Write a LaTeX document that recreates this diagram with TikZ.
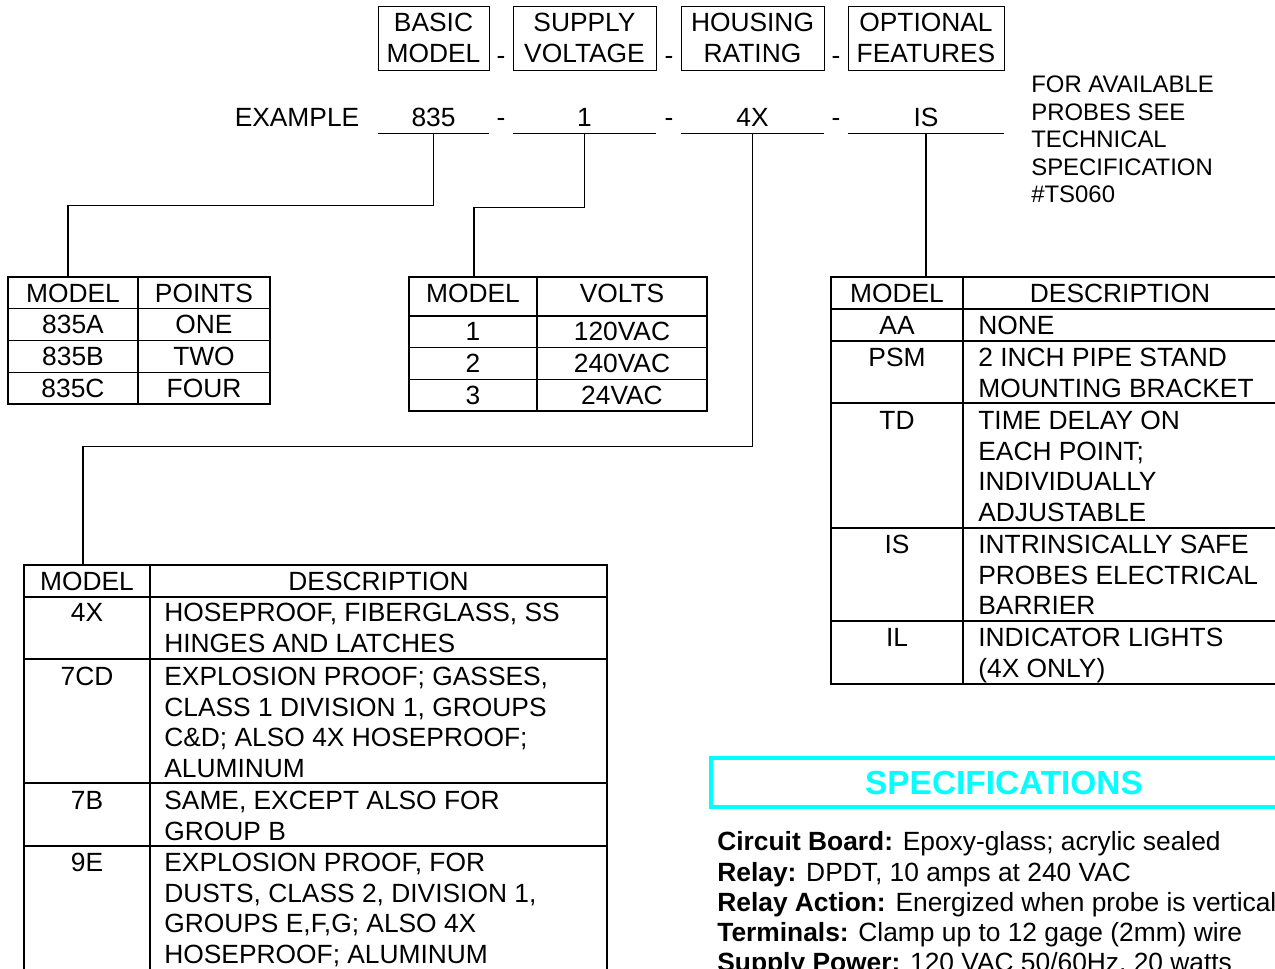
\documentclass[tikz,border=0pt]{standalone}
\usepackage{fontspec}
\setmainfont{Liberation Sans}
\usetikzlibrary{positioning,calc}

\definecolor{specCyan}{RGB}{0,255,255}
\newcommand{\capline}{\rule{0pt}{0.716em}}

\begin{document}
\begin{tikzpicture}[x=0.02cm,y=-0.02cm,
        hdr/.style={draw, align=center, minimum height=1.28cm, inner sep=0pt,
                    font=\fontsize{15}{18.1}\selectfont},
        field/.style={minimum height=0.64cm, inner sep=0pt},
        cell/.style={inner sep=0pt},
        dash sep/.style={inner sep=0pt, anchor=base},
        desc/.style={anchor=north west, align=left, inner sep=0pt},
        grid/.style={line width=0.6pt},
        link/.style={line width=0.6pt}]
  \tikzstyle{every node}=[font=\fontsize{15}{17.4}\selectfont]
  \clip (0,0) rectangle (1275,968);
  \fill[white] (0,0) rectangle (1275,968);

  % header boxes
  \node[hdr, minimum width=2.22cm] (hBasic) at (433.5,38) {BASIC\\MODEL};
  \node[hdr, minimum width=2.86cm] (hSupply) at (584.5,38) {SUPPLY\\VOLTAGE};
  \node[hdr, minimum width=2.86cm] (hHousing) at (752.5,38) {HOUSING\\RATING};
  \node[hdr, minimum width=3.12cm] (hOption) at (926,38) {OPTIONAL\\FEATURES};
  \node[dash sep] (d1) at (501,64.5) {-};
  \node[dash sep] (d2) at (669,64.5) {-};
  \node[dash sep] (d3) at (836,64.5) {-};

  % example line
  \node[cell] (ex) at (297,117) {EXAMPLE};
  \node[field, minimum width=2.22cm] (v835) at (433.5,117) {835};
  \node[field, minimum width=2.86cm] (vOne) at (584.5,117) {1};
  \node[field, minimum width=2.86cm] (vFour) at (752.5,117) {4X};
  \node[field, minimum width=3.12cm] (vIS) at (926,117) {IS};
  \foreach \f in {v835,vOne,vFour,vIS}
    \draw[link] (\f.south west) -- (\f.south east);
  \node[dash sep] (e1) at (501,126.5) {-};
  \node[dash sep] (e2) at (669,126.5) {-};
  \node[dash sep] (e3) at (836,126.5) {-};
  \node[desc, font=\fontsize{13.6}{15.6}\selectfont] (probes) at (1031,75.4)
    {\capline FOR AVAILABLE\\PROBES SEE\\TECHNICAL\\SPECIFICATION\\\#TS060};

  % points table
  \draw[grid] (8,277) rectangle (270,404);
  \draw[grid] (138,277) -- (138,404);
  \foreach \y in {308.75,340.5,372.25} \draw[grid] (8,\y) -- (270,\y);
  \coordinate (ptsTop) at (68,277);
  \node[cell] (ptsM) at (73,293) {MODEL};
  \node[cell] (ptsP) at (204,293) {POINTS};
  \foreach \m/\p [count=\i] in {835A/ONE,835B/TWO,835C/FOUR} {
    \node[cell] (pm\i) at (73,293+31.75*\i) {\m};
    \node[cell] (pp\i) at (204,293+31.75*\i) {\p};
  }

  % volts table
  \draw[grid] (409,277) rectangle (707,411);
  \draw[grid] (537,277) -- (537,411);
  \foreach \y in {316,347.7,379.4} \draw[grid] (409,\y) -- (707,\y);
  \coordinate (vltTop) at (474,277);
  \node[cell] (vltM) at (473,293) {MODEL};
  \node[cell] (vltV) at (622,293) {VOLTS};
  \foreach \m/\p [count=\i] in {1/120VAC,2/240VAC,3/24VAC} {
    \node[cell] (vm\i) at (473,300+31.7*\i) {\m};
    \node[cell] (vv\i) at (622,300+31.7*\i) {\p};
  }

  % options table
  \draw[grid] (831,277) rectangle (1277,684);
  \draw[grid] (963,277) -- (963,684);
  \foreach \y in {309,341,403,528,621} \draw[grid] (831,\y) -- (1277,\y);
  \coordinate (optTop) at (926,277);
  \node[cell] (optM) at (897,293) {MODEL};
  \node[cell] (optD) at (1120,293) {DESCRIPTION};
  \node[cell] (oAA) at (897,325) {AA};
  \node[cell] (oPSM) at (897,357) {PSM};
  \node[cell] (oTD) at (897,420) {TD};
  \node[cell] (oIS) at (897,544) {IS};
  \node[cell] (oIL) at (897,637) {IL};
  \node[desc] (dAA) at (978,315.5) {\capline NONE};
  \node[desc] (dPSM) at (978,347.5) {\capline 2 INCH PIPE STAND\\MOUNTING BRACKET};
  \node[desc] (dTD) at (978,410.5)
    {\capline TIME DELAY ON\\EACH POINT;\\INDIVIDUALLY\\ADJUSTABLE};
  \node[desc] (dIS) at (978,534.5)
    {\capline INTRINSICALLY SAFE\\PROBES ELECTRICAL\\BARRIER};
  \node[desc] (dIL) at (978,627.5) {\capline INDICATOR LIGHTS\\(4X ONLY)};

  % housing table
  \draw[grid] (24,990) -- (24,565) -- (607,565) -- (607,990);
  \draw[grid] (150,565) -- (150,990);
  \foreach \y in {597,659,783,846} \draw[grid] (24,\y) -- (607,\y);
  \coordinate (hsgTop) at (83,565);
  \node[cell] (hsgM) at (87,581) {MODEL};
  \node[cell] (hsgD) at (378.5,581) {DESCRIPTION};
  \node[cell] (h4X) at (87,612) {4X};
  \node[cell] (h7CD) at (87,676) {7CD};
  \node[cell] (h7B) at (87,800) {7B};
  \node[cell] (h9E) at (87,862) {9E};
  \node[desc] (d4X) at (164,602.5)
    {\capline HOSEPROOF, FIBERGLASS, SS\\HINGES AND LATCHES};
  \node[desc] (d7CD) at (164,666.5)
    {\capline EXPLOSION PROOF; GASSES,\\CLASS 1 DIVISION 1, GROUPS\\C\&D; ALSO 4X HOSEPROOF;\\ALUMINUM};
  \node[desc] (d7B) at (164,790.5) {\capline SAME, EXCEPT ALSO FOR\\GROUP B};
  \node[desc] (d9E) at (164,852.5)
    {\capline EXPLOSION PROOF, FOR\\DUSTS, CLASS 2, DIVISION 1,\\GROUPS E,F,G; ALSO 4X\\HOSEPROOF; ALUMINUM};

  % connectors
  \draw[link] (v835.south) -- ++(0,72) -| (ptsTop);
  \draw[link] (vOne.south) -- ++(0,74) -| (vltTop);
  \draw[link] (vFour.south) -- ++(0,313) -| (hsgTop);
  \draw[link] (vIS.south) -- (optTop);

  % specifications
  \node[draw=specCyan, line width=2pt, text=specCyan, minimum width=11.72cm,
        minimum height=0.98cm, inner sep=0pt,
        font=\bfseries\fontsize{19}{22}\selectfont] (spec) at (1004,782.5)
    {SPECIFICATIONS};
  \node[desc, font=\fontsize{15}{17.2}\selectfont] (specTxt) at (717,831.5)
    {\capline\textbf{Circuit Board:} Epoxy-glass; acrylic sealed\\
     \textbf{Relay:} DPDT, 10 amps at 240 VAC\\
     \textbf{Relay Action:} Energized when probe is vertical\\
     \textbf{Terminals:} Clamp up to 12 gage (2mm) wire\\
     \textbf{Supply Power:} 120 VAC 50/60Hz, 20 watts};
\end{tikzpicture}
\end{document}
